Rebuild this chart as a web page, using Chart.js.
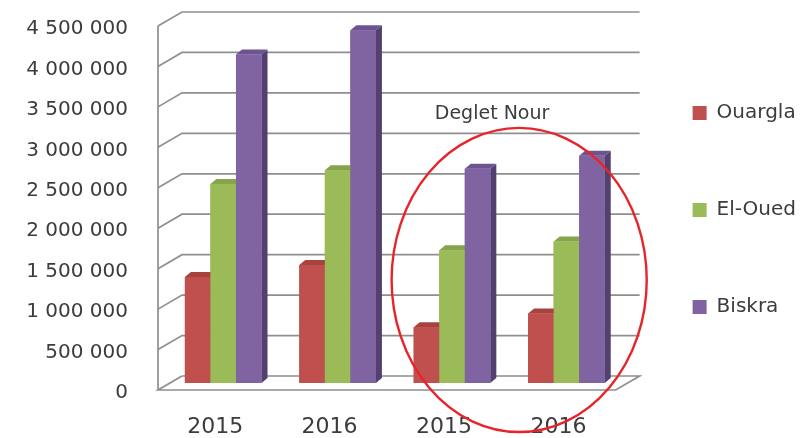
<!DOCTYPE html>
<html>
<head>
<meta charset="utf-8">
<script src="https://cdn.jsdelivr.net/npm/chart.js@4.4.1/dist/chart.umd.min.js"></script>
<style>
html,body{margin:0;padding:0;background:#ffffff;}
#wrap{width:806px;height:438px;position:relative;}
</style>
</head>
<body>
<div id="wrap"><canvas id="c"></canvas></div>
<script>
// ---- data ----
const categories = ['2015', '2016', '2015', '2016'];
const seriesNames = ['Ouargla', 'El-Oued', 'Biskra'];
const ouargla = [1310000, 1460000, 690000, 860000];
const elOued  = [2460000, 2630000, 1640000, 1750000];
const biskra  = [4060000, 4360000, 2650000, 2810000];
const yMin = 0, yMax = 4500000, yStep = 500000;
const annotationText = 'Deglet Nour';

// ---- styles ----
const frontColors = ['#C0504D', '#9BBB59', '#8064A2'];
const topColors   = ['#A8423F', '#86A44B', '#6C5490'];
const sideColors  = ['#8A3532', '#6E8739', '#533F70'];
const FONT = "'DejaVu Sans', 'Open Sans', sans-serif";
const TEXT = '#3c3c3c';

function fmt(v) {
  return String(v).replace(/\B(?=(\d{3})+(?!\d))/g, ' ');
}

const DEPTH_X = 24, DEPTH_Y = 14;   // wall depth
const BAR_SHIFT_X = 8, BAR_SHIFT_Y = -7; // bars sit mid-depth
const BAR_DX = 6, BAR_DY = 5;       // bar 3D depth

const wall3d = {
  id: 'wall3d',
  beforeDatasetsDraw(chart) {
    const {ctx, chartArea: a, scales: {y}} = chart;
    ctx.save();
    ctx.strokeStyle = '#8f8f8f';
    ctx.lineWidth = 1.7;
    y.ticks.forEach(t => {
      if (t.value === 0) return;
      const py = y.getPixelForValue(t.value);
      ctx.beginPath();
      ctx.moveTo(a.left, py);
      ctx.lineTo(a.left + DEPTH_X, py - DEPTH_Y);
      ctx.lineTo(a.right + DEPTH_X, py - DEPTH_Y);
      ctx.stroke();
    });
    const p0 = y.getPixelForValue(0);
    ctx.beginPath();
    ctx.moveTo(a.left + DEPTH_X, p0 - DEPTH_Y);
    ctx.lineTo(a.right + DEPTH_X, p0 - DEPTH_Y);
    ctx.lineTo(a.right, p0);
    ctx.lineTo(a.left, p0);
    ctx.lineTo(a.left + DEPTH_X, p0 - DEPTH_Y);
    ctx.stroke();
    ctx.beginPath();
    ctx.moveTo(a.left, y.getPixelForValue(yMax));
    ctx.lineTo(a.left, p0);
    ctx.stroke();
    ctx.restore();
    // shift bars to mid-depth
    ctx.save();
    ctx.translate(BAR_SHIFT_X, BAR_SHIFT_Y);
  },
  afterDatasetsDraw(chart) {
    const {ctx} = chart;
    // 3D faces drawn left-to-right so later bars cover earlier side faces
    const n = chart.data.labels.length;
    for (let j = 0; j < n; j++) {
      chart.data.datasets.forEach((ds, i) => {
        const meta = chart.getDatasetMeta(i);
        const el = meta.data[j];
        if (!el) return;
        const {x, y, base, width} = el.getProps(['x', 'y', 'base', 'width'], true);
        const l = x - width / 2, r = x + width / 2;
        ctx.fillStyle = sideColors[i];
        ctx.beginPath();
        ctx.moveTo(r, y); ctx.lineTo(r + BAR_DX, y - BAR_DY);
        ctx.lineTo(r + BAR_DX, base - BAR_DY); ctx.lineTo(r, base);
        ctx.closePath(); ctx.fill();
        ctx.fillStyle = topColors[i];
        ctx.beginPath();
        ctx.moveTo(l, y); ctx.lineTo(l + BAR_DX, y - BAR_DY);
        ctx.lineTo(r + BAR_DX, y - BAR_DY); ctx.lineTo(r, y);
        ctx.closePath(); ctx.fill();
        ctx.fillStyle = frontColors[i];
        ctx.fillRect(l, y, width, base - y);
      });
    }
    ctx.restore();
  },
  afterDraw(chart) {
    const {ctx, scales: {x, y}} = chart;
    const cw = x.getPixelForValue(1) - x.getPixelForValue(0);
    const mid = (x.getPixelForValue(2) + x.getPixelForValue(3)) / 2;
    const cx = mid + 0.157 * cw;
    const cy = y.getPixelForValue(1360000);
    const ry = cy - y.getPixelForValue(3240000);
    const rx = 1.115 * cw;
    ctx.save();
    ctx.strokeStyle = '#E8242B';
    ctx.lineWidth = 2.4;
    ctx.beginPath();
    ctx.ellipse(cx, cy, rx, ry, 0, 0, Math.PI * 2);
    ctx.stroke();
    ctx.fillStyle = TEXT;
    ctx.font = "19px " + FONT;
    ctx.textAlign = 'center';
    ctx.textBaseline = 'middle';
    ctx.fillText(annotationText, mid - 0.08 * cw, y.getPixelForValue(3410000));
    ctx.restore();
  }
};

new Chart(document.getElementById('c'), {
  type: 'bar',
  data: {
    labels: categories,
    datasets: [
      {label: seriesNames[0], data: ouargla, backgroundColor: frontColors[0]},
      {label: seriesNames[1], data: elOued, backgroundColor: frontColors[1]},
      {label: seriesNames[2], data: biskra, backgroundColor: frontColors[2]}
    ]
  },
  options: {
    responsive: true,
    maintainAspectRatio: false,
    animation: false,
    devicePixelRatio: 1,
    datasets: {bar: {categoryPercentage: 0.67, barPercentage: 1, borderWidth: 0, clip: false}},
    layout: {padding: {top: 26, right: 0, bottom: 0, left: 0}},
    plugins: {
      tooltip: {enabled: false},
      legend: {
        position: 'right',
        align: 'start',
        labels: {
          boxWidth: 14, boxHeight: 14, padding: 77,
          color: TEXT,
          font: {family: FONT, size: 20}
        }
      }
    },
    scales: {
      x: {
        grid: {display: false},
        border: {display: false},
        ticks: {color: TEXT, font: {family: FONT, size: 22}, padding: 16, maxRotation: 0},
        afterFit(s) { s.height = 48; s.paddingLeft = 0; s.paddingRight = 0; }
      },
      y: {
        min: yMin, max: yMax,
        grid: {display: false, drawTicks: false},
        border: {display: false},
        ticks: {
          stepSize: yStep,
          color: TEXT,
          font: {family: FONT, size: 20},
          padding: 30,
          labelOffset: 3,
          callback: v => fmt(v)
        },
        afterFit(s) { s.width = 158; s.paddingTop = 0; s.paddingBottom = 0; }
      }
    }
  },
  plugins: [wall3d]
});
</script>
</body>
</html>
